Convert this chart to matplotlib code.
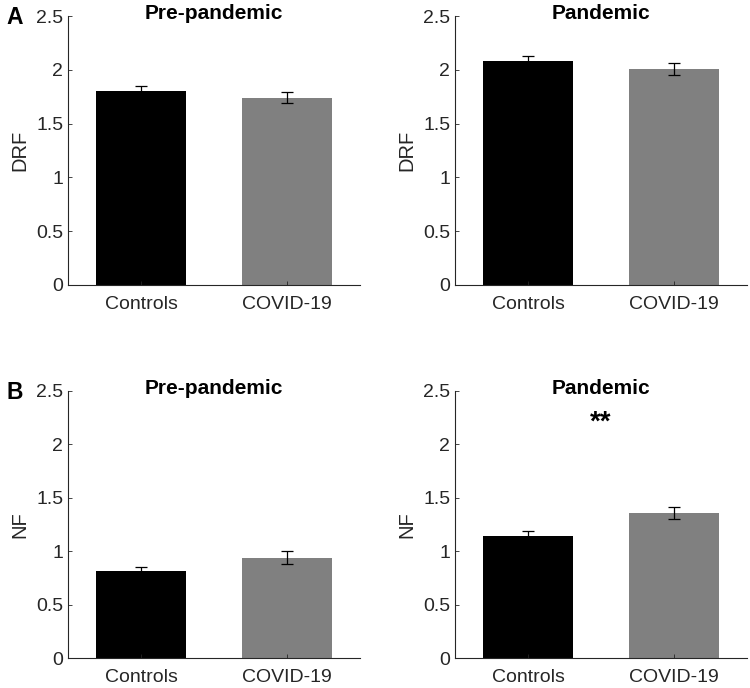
import matplotlib.pyplot as plt

plt.rcParams['font.family'] = ['Liberation Sans', 'DejaVu Sans']

groups = ['Controls', 'COVID-19']
drf_pre = [1.80, 1.74]
drf_pre_err = [0.05, 0.05]
drf_pan = [2.08, 2.01]
drf_pan_err = [0.05, 0.055]
nf_pre = [0.81, 0.94]
nf_pre_err = [0.04, 0.06]
nf_pan = [1.14, 1.36]
nf_pan_err = [0.05, 0.055]
yticks = [0, 0.5, 1, 1.5, 2, 2.5]
ytick_labels = ['0', '0.5', '1', '1.5', '2', '2.5']

fig = plt.figure(figsize=(7.5, 6.88), dpi=100)

panels = [
    ([0.0907, 0.5858, 0.3893, 0.3909], drf_pre, drf_pre_err, 'Pre-pandemic', 'DRF'),
    ([0.6067, 0.5858, 0.3893, 0.3909], drf_pan, drf_pan_err, 'Pandemic', 'DRF'),
    ([0.0907, 0.0436, 0.3893, 0.3881], nf_pre, nf_pre_err, 'Pre-pandemic', 'NF'),
    ([0.6067, 0.0436, 0.3893, 0.3881], nf_pan, nf_pan_err, 'Pandemic', 'NF'),
]

axes = []
for rect, vals, errs, title, ylab in panels:
    ax = fig.add_axes(rect)
    x = [1, 2]
    ax.bar(x, vals, width=0.61, color=['black', '#808080'])
    ax.errorbar(x, vals, yerr=errs, fmt='none', ecolor='black',
                elinewidth=0.9, capsize=4.5, capthick=0.9)
    ax.set_xlim(0.5, 2.5)
    ax.set_ylim(0, 2.5)
    ax.set_yticks(yticks)
    ax.set_yticklabels(ytick_labels)
    ax.set_xticks(x)
    ax.set_xticklabels(groups)
    ax.spines['top'].set_visible(False)
    ax.spines['right'].set_visible(False)
    for s in ['left', 'bottom']:
        ax.spines[s].set_color('#262626')
        ax.spines[s].set_linewidth(0.8)
    ax.tick_params(axis='both', direction='in', length=3, width=0.6,
                   colors='#262626', labelsize=14)
    ax.tick_params(axis='x', pad=8)
    ax.tick_params(axis='y', pad=3.5)
    # title baseline sits a little below the top of the y axis
    ax.text(0.5, 0.988, title, transform=ax.transAxes, ha='center',
            va='baseline', fontsize=15, fontweight='bold')
    ax.set_ylabel(ylab, fontsize=14.5, color='#262626', labelpad=5)
    axes.append(ax)

axes[3].text(1.5, 2.2, '**', ha='center', va='center', fontsize=20,
             fontweight='bold')

fig.text(0.009, 0.975, 'A', fontsize=16.5, fontweight='bold', va='center')
fig.text(0.009, 0.43, 'B', fontsize=16.5, fontweight='bold', va='center')

fig.savefig('out.png', dpi=100)
